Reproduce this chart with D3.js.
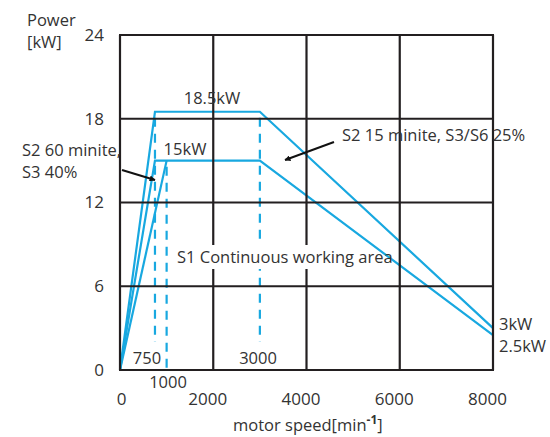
<!DOCTYPE html>
<html>
<head>
<meta charset="utf-8">
<script src="https://cdn.jsdelivr.net/npm/d3@7"></script>
<style>
  body { margin: 0; background: #fff; }
  svg text { font-family: "Open Sans", sans-serif; fill: #333; }
</style>
</head>
<body>
<div id="chart"></div>
<script>
const speedTicks = [0, 2000, 4000, 6000, 8000];
const powerTicks = [0, 6, 12, 18, 24];

// [speed, power] corner points of each curve
const s2Short = [[0, 0], [750, 18.5], [3000, 18.5], [8000, 3]];
const s2Long = [[0, 0], [750, 15], [3000, 15], [8000, 2.5]];
const s1 = [[0, 0], [1000, 15]];

// dashed guides: speed, top power, bottom power
const guideSpeeds = [750, 1000, 3000];
const guideTops = [18.5, 15, 18.5];
const guideBottoms = [2, 0, 2];

const width = 550;
const height = 437;
const blue = '#18a8e0';
const ink = '#231f20';

const svg = d3.select('#chart')
  .append('svg')
  .attr('width', width)
  .attr('height', height);

const x = d3.scaleLinear()
  .domain([0, 8000])
  .range([120, 493]);

const y = d3.scaleLinear()
  .domain([0, 24])
  .range([370, 35]);

const line = d3.line()
  .x(d => x(d[0]))
  .y(d => y(d[1]));

// dashed guides
svg.selectAll('.guide')
  .data(guideSpeeds)
  .join('line')
  .attr('x1', d => x(d))
  .attr('x2', d => x(d))
  .attr('y1', (d, i) => y(guideTops[i]))
  .attr('y2', (d, i) => y(guideBottoms[i]))
  .attr('stroke', blue)
  .attr('stroke-width', 2.2)
  .attr('stroke-dasharray', '9,7')
  .attr('stroke-dashoffset', -6);

// power curves
svg.selectAll('.curve')
  .data([s2Short, s2Long, s1])
  .join('path')
  .attr('d', line)
  .attr('fill', 'none')
  .attr('stroke', blue)
  .attr('stroke-width', 2.2);

// grid and frame on top
svg.append('g')
  .selectAll('line')
  .data(speedTicks)
  .join('line')
  .attr('x1', d => x(d))
  .attr('x2', d => x(d))
  .attr('y1', y(0))
  .attr('y2', y(24))
  .attr('stroke', ink)
  .attr('stroke-width', 2.2);

svg.append('g')
  .selectAll('line')
  .data(powerTicks)
  .join('line')
  .attr('x1', x(0) - 1)
  .attr('x2', x(8000) + 1)
  .attr('y1', d => y(d))
  .attr('y2', d => y(d))
  .attr('stroke', ink)
  .attr('stroke-width', 2.2);

// axis labels
svg.append('g')
  .attr('transform', `translate(${x(0)},0)`)
  .call(d3.axisLeft(y).tickValues(powerTicks).tickSize(0).tickPadding(16))
  .call(g => g.select('.domain').remove())
  .selectAll('text')
  .style('font-size', '17px');

svg.append('g')
  .attr('transform', `translate(0,${y(0)})`)
  .call(d3.axisBottom(x).tickValues(speedTicks).tickFormat(d3.format('d')).tickSize(0).tickPadding(23))
  .call(g => g.select('.domain').remove())
  .selectAll('text')
  .style('font-size', '17px')
  .attr('x', d => d === 0 ? 1 : -6);

const label = (txt, px, py, anchor) => svg.append('text')
  .attr('x', px)
  .attr('y', py)
  .attr('text-anchor', anchor || 'start')
  .style('font-size', '16.5px')
  .text(txt);

label('Power', 27, 26);
label('[kW]', 27, 48);

label('750', 147, 364, 'middle');
label('1000', 168, 388, 'middle');
label('3000', 258, 364, 'middle');

label('18.5kW', 212, 104, 'middle');
label('15kW', 185, 155, 'middle');
label('3kW', 499, 330);
label('2.5kW', 499, 352);

label('S2 60 minite,', 22, 156);
label('S3 40%', 22, 178);
label('S2 15 minite, S3/S6 25%', 342, 141);

// working area label with white backing
svg.append('rect')
  .attr('x', 174)
  .attr('y', 245)
  .attr('width', 172)
  .attr('height', 24)
  .attr('fill', '#fff');
label('S1 Continuous working area', 177, 263);

// axis title
const title = svg.append('text')
  .attr('x', 233)
  .attr('y', 431)
  .style('font-size', '16.5px');
title.append('tspan').text('motor speed[min');
title.append('tspan').attr('dy', -7).style('font-size', '12px').style('font-weight', 'bold').text('-1');
title.append('tspan').attr('dy', 7).text(']');

// arrows
const defs = svg.append('defs');
defs.append('marker')
  .attr('id', 'head')
  .attr('viewBox', '0 0 10 10')
  .attr('refX', 9)
  .attr('refY', 5)
  .attr('markerWidth', 6)
  .attr('markerHeight', 6)
  .attr('markerUnits', 'userSpaceOnUse')
  .attr('orient', 'auto')
  .append('path')
  .attr('d', 'M0,0 L10,5 L0,10 Z')
  .attr('fill', '#111');

svg.append('line')
  .attr('x1', 122).attr('y1', 170)
  .attr('x2', 155).attr('y2', 180)
  .attr('stroke', '#111')
  .attr('stroke-width', 2)
  .attr('marker-end', 'url(#head)');

svg.append('line')
  .attr('x1', 334).attr('y1', 142)
  .attr('x2', 285).attr('y2', 160)
  .attr('stroke', '#111')
  .attr('stroke-width', 2)
  .attr('marker-end', 'url(#head)');
</script>
</body>
</html>
